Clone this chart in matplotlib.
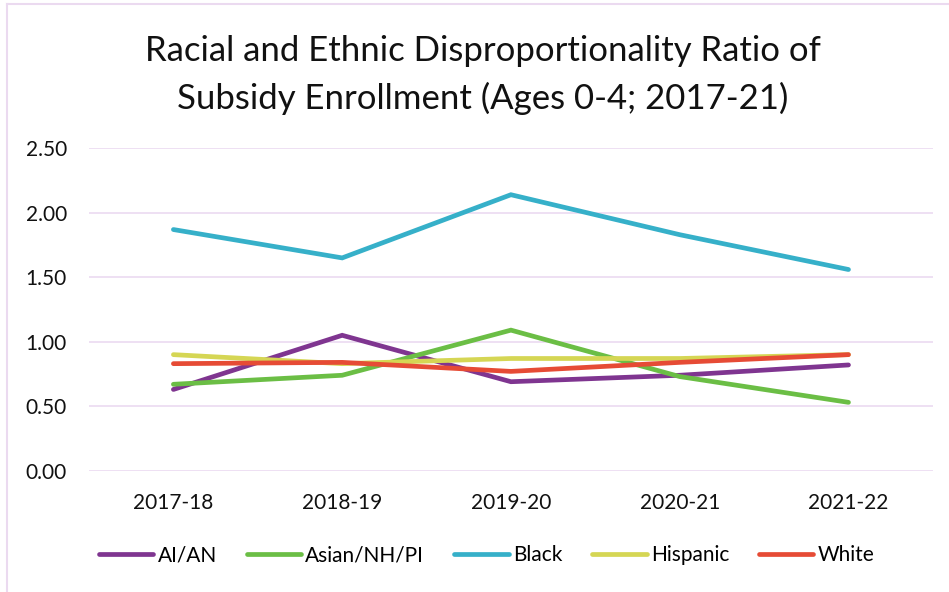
import matplotlib.pyplot as plt
from matplotlib.lines import Line2D

# school years on the category axis
years = ["2017-18", "2018-19", "2019-20", "2020-21", "2021-22"]

# disproportionality ratio per group
ai_an = [0.63, 1.05, 0.69, 0.74, 0.82]
asian_nh_pi = [0.67, 0.74, 1.09, 0.73, 0.53]
black = [1.87, 1.65, 2.14, 1.83, 1.56]
hispanic = [0.90, 0.83, 0.87, 0.87, 0.90]
white = [0.83, 0.84, 0.77, 0.84, 0.90]

series = [
    ("AI/AN", ai_an, "#7F3590"),
    ("Asian/NH/PI", asian_nh_pi, "#6BBE45"),
    ("Black", black, "#36B0C9"),
    ("Hispanic", hispanic, "#D5D654"),
    ("White", white, "#E64B35"),
]

plt.rcParams["font.family"] = ["Lato", "DejaVu Sans"]

fig = plt.figure(figsize=(9.49, 5.92), dpi=100)
ax = fig.add_axes([0.0938, 0.2049, 0.8892, 0.5446])

x = list(range(len(years)))
for name, vals, color in series:
    ax.plot(x, vals, color=color, lw=3.4, solid_capstyle="round",
            solid_joinstyle="miter", label=name)

ax.set_xlim(-0.5, len(years) - 0.5)
ax.set_ylim(0, 2.5)
ax.set_yticks([0, 0.5, 1.0, 1.5, 2.0, 2.5])
ax.set_yticklabels(["%.2f" % v for v in [0, 0.5, 1.0, 1.5, 2.0, 2.5]])
ax.set_xticks(x)
ax.set_xticklabels(years)
ax.tick_params(axis="y", length=0, pad=16, labelsize=15, colors="#111111")
ax.tick_params(axis="x", length=0, pad=16, labelsize=15, colors="#111111")
ax.grid(axis="y", color="#EDDDF2", lw=1.3)
ax.set_axisbelow(True)
for s in ax.spines.values():
    s.set_visible(False)

fig.text(0.509, 0.874, "Racial and Ethnic Disproportionality Ratio of\nSubsidy Enrollment (Ages 0-4; 2017-21)",
         ha="center", va="center", fontsize=25, linespacing=1.55, color="#111111")

handles = [Line2D([], [], color=c, lw=3.4, solid_capstyle="round") for _, _, c in series]
fig.legend(handles, [n for n, _, _ in series], loc="center", bbox_to_anchor=(0.513, 0.0625),
           ncol=5, frameon=False, fontsize=15, handlelength=2.6, handletextpad=0.2,
           columnspacing=1.45)

# chart frame (top and left edges)
fig.add_artist(Line2D([7 / 949, 1], [1 - 4 / 592, 1 - 4 / 592], color="#EBDAF0", lw=1.5,
                      transform=fig.transFigure))
fig.add_artist(Line2D([7 / 949, 7 / 949], [0, 1 - 4 / 592], color="#EBDAF0", lw=1.5,
                      transform=fig.transFigure))

fig.savefig("out.png", dpi=100)
